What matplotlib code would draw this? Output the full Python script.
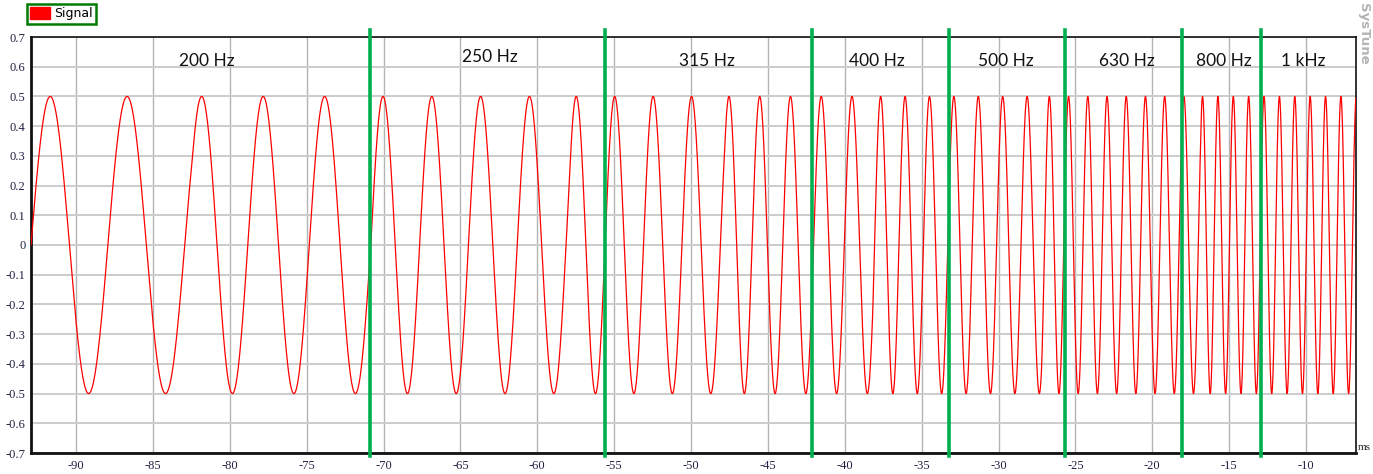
import numpy as np
import matplotlib
matplotlib.use("Agg")
import matplotlib.pyplot as plt
from matplotlib.patches import Patch

# tone sequence (phase continuous sine, amplitude 0.5)
tone_freqs_hz = [200, 250, 315, 400, 500, 630, 800, 1000]
tone_starts_ms = [-92.93, -82.43, -70.82, -57.95, -47.8, -38.18, -27.21, -16.88]
signal_end_ms = -6.75
amplitude = 0.5

# green band markers and their labels
band_lines_ms = [-70.89, -55.60, -42.15, -33.24, -25.70, -18.09, -12.95]
band_labels = ["200 Hz", "250 Hz", "315 Hz", "400 Hz", "500 Hz", "630 Hz", "800 Hz", "1 kHz"]
band_label_x = [-81.48, -63.08, -48.97, -37.92, -29.53, -21.67, -15.36, -10.16]
band_label_y = [0.619, 0.633, 0.619, 0.619, 0.619, 0.619, 0.619, 0.619]

x_ticks = list(range(-90, -5, 5))
y_ticks = [round(v, 1) for v in np.arange(-0.7, 0.71, 0.1)]

# build signal
t = np.arange(tone_starts_ms[0], signal_end_ms, 0.005)
idx = np.searchsorted(tone_starts_ms, t, side='right') - 1
f_khz = np.array(tone_freqs_hz)[idx] / 1000.0
dt = np.diff(t, prepend=t[0])
phase = 2 * np.pi * np.cumsum(f_khz * dt)
y = amplitude * np.sin(phase)

plt.rcParams['axes.unicode_minus'] = False
fig = plt.figure(figsize=(13.73, 4.74), dpi=100)
ax = fig.add_axes([31 / 1373, 1 - 453 / 474, 1325 / 1373, 416 / 474])

ax.plot(t, y, color='#ff0000', linewidth=0.9, zorder=3)

for xv in band_lines_ms:
    ax.axvline(xv, ymin=-0.007, ymax=1.017, color='#00b050', linewidth=2.6,
               clip_on=False, zorder=4)

for lab, lx, ly in zip(band_labels, band_label_x, band_label_y):
    ax.text(lx, ly, lab, ha='center', va='center', fontsize=12.5,
            family='Lato', color='#111111', zorder=5)

ax.set_xlim(tone_starts_ms[0], signal_end_ms)
ax.set_ylim(-0.7, 0.7)
ax.set_xticks(x_ticks)
ax.set_yticks(y_ticks)
ax.set_xticklabels([str(v) for v in x_ticks])
ax.set_yticklabels(['0' if v == 0 else f'{v:g}' for v in y_ticks])
ax.tick_params(length=0, labelsize=9, colors='#222244', pad=4)
ax.tick_params(axis='x', pad=5)
for lbl in ax.get_xticklabels() + ax.get_yticklabels():
    lbl.set_family('Liberation Serif')

ax.xaxis.grid(True, color='#b4b4b4', linewidth=1.0)
ax.yaxis.grid(True, color='#cccccc', linewidth=1.4)
ax.set_axisbelow(True)

ax.spines['left'].set_linewidth(2)
ax.spines['bottom'].set_linewidth(2)
ax.spines['top'].set_linewidth(1.2)
ax.spines['right'].set_linewidth(1.2)
for s in ax.spines.values():
    s.set_color('#111111')

fig.text(1358 / 1373, 1 - 452 / 474, 'ms', fontsize=8, family='Liberation Serif',
         ha='left', va='bottom', color='#222222')
fig.text(1364 / 1373, 1 - 34 / 474, 'SysTune', fontsize=9.5, rotation=270,
         ha='center', va='center', color='#b4b4b4', fontweight='bold')

leg = fig.legend(handles=[Patch(facecolor='#ff0000', edgecolor='#ff0000', label='Signal')],
                 loc='upper left', bbox_to_anchor=(27 / 1373, 1 - 4 / 474),
                 fontsize=9, fancybox=False, framealpha=1, borderpad=0.25,
                 handlelength=1.6, handleheight=1.1, handletextpad=0.35,
                 borderaxespad=0)
leg.get_frame().set_edgecolor('#007a00')
leg.get_frame().set_linewidth(1.8)

fig.savefig('out.png', dpi=100)
